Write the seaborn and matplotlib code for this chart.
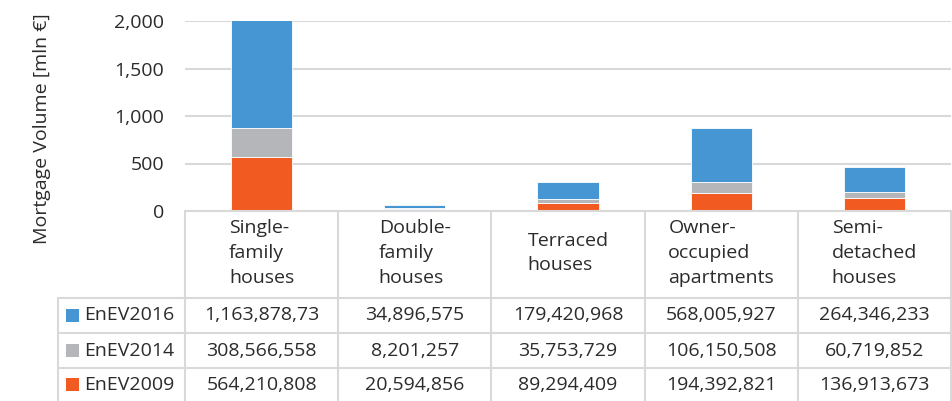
import matplotlib
matplotlib.use("Agg")
import matplotlib.pyplot as plt
import matplotlib.transforms as mtransforms
import seaborn as sns
import pandas as pd
from matplotlib.patches import Rectangle

# ---------------- data ----------------
categories = ["Single-family houses", "Double-family houses", "Terraced houses",
              "Owner-occupied apartments", "Semi-detached houses"]
category_labels = ["Single-\nfamily\nhouses", "Double-\nfamily\nhouses", "Terraced\nhouses",
                   "Owner-\noccupied\napartments", "Semi-\ndetached\nhouses"]
series_names = ["EnEV2016", "EnEV2014", "EnEV2009"]
# values in mln €
enev2009 = [564.210808, 20.594856, 89.294409, 194.392821, 136.913673]
enev2014 = [308.566558, 8.201257, 35.753729, 106.150508, 60.719852]
enev2016 = [1163.87873, 34.896575, 179.420968, 568.005927, 264.346233]
# data-table texts as shown in the chart
labels_2016 = ["1,163,878,73", "34,896,575", "179,420,968", "568,005,927", "264,346,233"]
labels_2014 = ["308,566,558", "8,201,257", "35,753,729", "106,150,508", "60,719,852"]
labels_2009 = ["564,210,808", "20,594,856", "89,294,409", "194,392,821", "136,913,673"]
yticks = [0, 500, 1000, 1500, 2000]
ylabel = "Mortgage Volume [mln €]"

colors = {"EnEV2016": "#4596D2", "EnEV2014": "#B5B6B9", "EnEV2009": "#F15B22"}
text_color = "#2b2b2b"
grid_color = "#D9D9D9"
fs = 14

sns.set_theme(style="white")
plt.rcParams["font.family"] = ["Open Sans", "DejaVu Sans"]

W, H = 953, 401
fig = plt.figure(figsize=(W / 100, H / 100), dpi=100)
left_px, right_px, top_px, bot_px = 185, 951, 21, 211
ax = fig.add_axes([left_px / W, 1 - bot_px / H, (right_px - left_px) / W, (bot_px - top_px) / H])

df = pd.DataFrame({"category": categories, "EnEV2009": enev2009,
                   "EnEV2014": enev2014, "EnEV2016": enev2016})
bottom2014 = df["EnEV2009"].values
bottom2016 = (df["EnEV2009"] + df["EnEV2014"]).values

common = dict(data=df, x="category", width=0.4, saturation=1, ax=ax,
              edgecolor="white", linewidth=0.6, order=categories)
sns.barplot(y="EnEV2009", color=colors["EnEV2009"], **common)
sns.barplot(y="EnEV2014", color=colors["EnEV2014"], bottom=bottom2014, **common)
sns.barplot(y="EnEV2016", color=colors["EnEV2016"], bottom=bottom2016, **common)

ax.set_xlim(-0.5, len(categories) - 0.5)
ax.set_ylim(0, 2000)
ax.set_yticks(yticks)
ax.set_yticklabels([f"{t:,}" for t in yticks])
ax.tick_params(axis="y", length=0, pad=15, labelsize=fs, labelcolor=text_color)
ax.tick_params(axis="x", length=0, labelbottom=False)
ax.set_xlabel("")
ax.set_ylabel("")
ax.yaxis.grid(True, color=grid_color, linewidth=1.5)
ax.set_axisbelow(True)
for s in ax.spines.values():
    s.set_visible(False)

fig.text(42 / W, 1 - 129 / H, ylabel, rotation=90, ha="center", va="center",
         fontsize=14, color=text_color)

# ---------------- data table ----------------
blend = mtransforms.blended_transform_factory(ax.transData, fig.transFigure)
fy = lambda py: 1 - py / H
fx = lambda px: px / W
lw = 1.5
row_lines = [211, 298, 333, 368]
fig.add_artist(plt.Line2D([fx(185), fx(951)], [fy(211), fy(211)], color=grid_color, lw=lw))
for py in row_lines[1:]:
    fig.add_artist(plt.Line2D([fx(58), fx(951)], [fy(py), fy(py)], color=grid_color, lw=lw))
for k in range(len(categories) + 1):
    ax.plot([k - 0.5, k - 0.5], [fy(211), fy(401)], transform=blend, color=grid_color,
            lw=lw, clip_on=False)
fig.add_artist(plt.Line2D([fx(58), fx(58)], [fy(298), fy(401)], color=grid_color, lw=lw))

for i, lab in enumerate(category_labels):
    ax.text(i, fy(253), lab, transform=blend, ha="center", va="center", multialignment="left",
            fontsize=fs, color=text_color, linespacing=1.5)

rows = [("EnEV2016", labels_2016, 315.5), ("EnEV2014", labels_2014, 350.5),
        ("EnEV2009", labels_2009, 384.5)]
for name, labs, py in rows:
    fig.add_artist(Rectangle((fx(66), fy(py + 6.5)), 13 / W, 13 / H, transform=fig.transFigure,
                             facecolor=colors[name], edgecolor="none"))
    fig.text(fx(84), fy(py), name, ha="left", va="center", fontsize=fs, color=text_color)
    for i, t in enumerate(labs):
        ax.text(i, fy(py), t, transform=blend, ha="center", va="center",
                fontsize=fs, color=text_color)

fig.savefig("out.png", dpi=100)
